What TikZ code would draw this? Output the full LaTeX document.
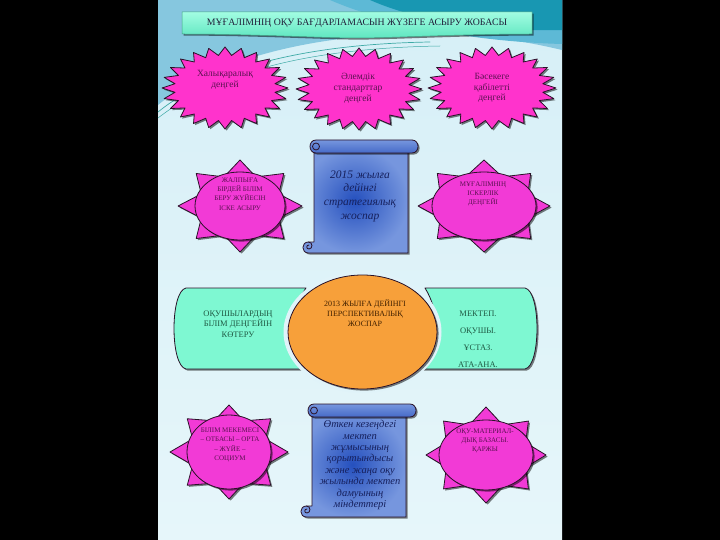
\documentclass[tikz,border=0pt]{standalone}
\usepackage{fontspec}
\setmainfont{Liberation Serif}
\usetikzlibrary{shadows}
\definecolor{panelbg}{HTML}{D6EFF7}
\definecolor{panelbot}{HTML}{E6F6FA}
\definecolor{swoopblue}{HTML}{86C7DF}
\definecolor{swoopband}{HTML}{5DB9D6}
\definecolor{swoopteal}{HTML}{1897B2}
\definecolor{swoopline}{HTML}{3EAAA6}
\definecolor{mintlight}{HTML}{A2FDE2}
\definecolor{mintdark}{HTML}{5FE6C0}
\definecolor{mintfill}{HTML}{7EF8D2}
\definecolor{burstpink}{HTML}{FF33CC}
\definecolor{sunpink}{HTML}{F23AD6}
\definecolor{planorange}{HTML}{F7A03A}
\definecolor{scrollmid}{HTML}{2550BE}
\definecolor{scrolledge}{HTML}{7696DE}
\definecolor{edgedark}{HTML}{2A1228}
\definecolor{bursttext}{HTML}{5A1150}
\definecolor{scrolltext}{HTML}{16205C}
\definecolor{minttext}{HTML}{1F5A44}
\definecolor{titletext}{HTML}{20203A}

\begin{document}
\begin{tikzpicture}[line cap=round,line join=round,x=1pt,y=-1pt,
	outl/.style={draw=edgedark,line width=0.8pt},
	lowshadow/.style={drop shadow={shadow xshift=1.6pt,shadow yshift=-1.6pt,opacity=0.5,fill=black}},
	burstshape/.style={outl,fill=burstpink,lowshadow},
	sunshape/.style={outl,fill=sunpink,lowshadow},
	plateshape/.style={outl,fill=mintfill,lowshadow},
	scrollshape/.style={outl,inner color=scrollmid,outer color=scrolledge,lowshadow},
	rollshape/.style={outl,top color=scrolledge,bottom color=scrollmid!85,lowshadow},
	titletxt/.style={inner sep=0pt,text=titletext,font=\fontsize{9.8}{11}\selectfont},
	bursttxt/.style={inner sep=0pt,align=center,text=bursttext,font=\fontsize{9.5}{10.8}\selectfont},
	suntxt/.style={inner sep=0pt,align=center,text=bursttext,font=\fontsize{7}{9.4}\selectfont},
	scrolltxt/.style={inner sep=0pt,align=center,text=scrolltext,font=\itshape\fontsize{11.5}{13.6}\selectfont},
	platetxt/.style={inner sep=0pt,align=center,text=minttext,font=\fontsize{8.5}{10.5}\selectfont}]
	\useasboundingbox (0,0) rectangle (720,540);
	\fill[black] (0,0) rectangle (720,540);
	\shade[top color=panelbg,bottom color=panelbot] (158,0) rectangle (562,540);
	\fill[swoopblue] (158,0) -- (158,105) .. controls (210,62) and (300,38) .. (400,34) .. controls (470,32) and (520,40) .. (562,50) -- (562,0) -- cycle;
	\fill[swoopband] (330,0) .. controls (400,30) and (490,42) .. (562,44) -- (562,0) -- cycle;
	\fill[swoopteal] (370,0) .. controls (420,22) and (490,32) .. (562,30) -- (562,0) -- cycle;
	\draw[swoopline,line width=0.7pt] (158,112) .. controls (215,66) and (310,44) .. (430,42);
	\draw[swoopline,line width=0.5pt] (158,118) .. controls (220,70) and (315,48) .. (440,46);
	\draw[draw=mintdark!70!black,line width=0.5pt,top color=mintlight,bottom color=mintdark,lowshadow] (182,12) -- (532,12) -- (532,34) .. controls (460,34) and (390,38) .. (357,38) .. controls (324,38) and (254,34) .. (182,34) -- cycle;
	\node[titletxt] (title) at (357,23) {МҰҒАЛІМНІҢ ОҚУ БАҒДАРЛАМАСЫН ЖҮЗЕГЕ АСЫРУ ЖОБАСЫ};
	\foreach \cx/\cy/\rx/\ry in {225/88/63/41,359/89/63/41,492/88/64/41}
		\draw[burstshape] ({\cx+\rx},\cy) \foreach \k in {1,...,47} {-- ({\cx+(1-0.2*mod(\k,2))*\rx*cos(7.5*\k)},{\cy+(1-0.2*mod(\k,2))*\ry*sin(7.5*\k)})} -- cycle;
	\node[bursttxt] (intl) at (225,80) {Халықаралық\\деңгей};
	\node[bursttxt] (world) at (358,88) {Әлемдік\\стандарттар\\деңгей};
	\node[bursttxt] (compet) at (492,88) {Бәсекеге\\қабілетті\\деңгей};
	\foreach \sunx/\suny/\sunrx/\sunry/\tiprx/\tipry in {240/206/45/34/62/46,484/206/52/34/66/46,229/452/42/37/59/47,486/455/47/35/60/48}
	{
		\foreach \a in {0,45,...,315}
			\draw[sunshape] ({\sunx+\tiprx*cos(\a)},{\suny+\tipry*sin(\a)}) -- ({\sunx+0.85*\sunrx*cos(\a+32)},{\suny+0.85*\sunry*sin(\a+32)}) -- ({\sunx+0.85*\sunrx*cos(\a-32)},{\suny+0.85*\sunry*sin(\a-32)}) -- cycle;
		\draw[sunshape] (\sunx,\suny) ellipse [x radius=\sunrx pt, y radius=\sunry pt];
	}
	\node[suntxt] (general) at (240,194) {ЖАЛПЫҒА\\БІРДЕЙ БІЛІМ\\БЕРУ ЖҮЙЕСІН\\ІСКЕ АСЫРУ};
	\node[suntxt] (skill) at (483,194) {МҰҒАЛІМНІҢ\\ІСКЕРЛІК\\ДЕҢГЕЙІ};
	\node[suntxt] (society) at (230,445) {БІЛІМ МЕКЕМЕСІ\\– ОТБАСЫ – ОРТА\\– ЖҮЙЕ –\\СОЦИУМ};
	\node[suntxt] (base) at (485,441) {ОҚУ-МАТЕРИАЛ-\\ДЫҚ БАЗАСЫ.\\ҚАРЖЫ};
	\foreach \sx/\sy in {302/140,300/404}
	{
		\draw[scrollshape] ({\sx+12},{\sy+8}) -- ({\sx+106},{\sy+8}) -- ({\sx+106},{\sy+113}) -- ({\sx+6.5},{\sy+113}) .. controls ({\sx-1},{\sy+113}) and ({\sx-1},{\sy+102}) .. ({\sx+6.5},{\sy+102}) -- ({\sx+12},{\sy+102}) -- cycle;
		\draw[outl] ({\sx+6.5},{\sy+102}) .. controls ({\sx+11},{\sy+102}) and ({\sx+11},{\sy+109}) .. ({\sx+7},{\sy+109}) .. controls ({\sx+4},{\sy+109}) and ({\sx+4},{\sy+105}) .. ({\sx+7},{\sy+105});
		\draw[rollshape] ({\sx+14},\sy) -- ({\sx+110},\sy) .. controls ({\sx+118},\sy) and ({\sx+118},{\sy+13}) .. ({\sx+110},{\sy+13}) -- ({\sx+14},{\sy+13}) .. controls ({\sx+6},{\sy+13}) and ({\sx+6},\sy) .. ({\sx+14},\sy) -- cycle;
		\draw[outl] ({\sx+14},{\sy+6.5}) circle [radius=3.5pt];
	}
	\node[scrolltxt] (strategy) at (360,196) {2015 жылға\\дейінгі\\стратегиялық\\жоспар};
	\node[scrolltxt,font=\itshape\fontsize{10.5}{11.4}\selectfont] (tasks) at (360,465) {Өткен кезеңдегі\\мектеп\\жұмысының\\қорытындысы\\және жаңа оқу\\жылында мектеп\\дамуының\\міндеттері};
	\draw[plateshape] (186,288) -- (306,288) .. controls (290,310) and (290,348) .. (306,369) -- (186,369) .. controls (170,366) and (170,291) .. (186,288) -- cycle;
	\draw[plateshape] (425,288) -- (525,288) .. controls (541,291) and (541,366) .. (525,369) -- (422,369) .. controls (440,345) and (440,312) .. (425,288) -- cycle;
	\fill[panelbg!40!panelbot] (362.5,332) ellipse [x radius=79pt, y radius=61pt];
	\draw[outl,fill=planorange,lowshadow] (362.5,332) ellipse [x radius=74.5pt, y radius=57pt];
	\node[platetxt] (pupils) at (238,324) {ОҚУШЫЛАРДЫҢ\\БІЛІМ ДЕҢГЕЙІН\\КӨТЕРУ};
	\node[platetxt,font=\fontsize{8.5}{17}\selectfont] (school) at (478,339) {МЕКТЕП.\\ОҚУШЫ.\\ҰСТАЗ.\\АТА-АНА.};
	\node[platetxt,text=black!75!orange,font=\fontsize{8}{10}\selectfont] (plan) at (365,313) {2013 ЖЫЛҒА ДЕЙІНГІ\\ПЕРСПЕКТИВАЛЫҚ\\ЖОСПАР};
\end{tikzpicture}
\end{document}
